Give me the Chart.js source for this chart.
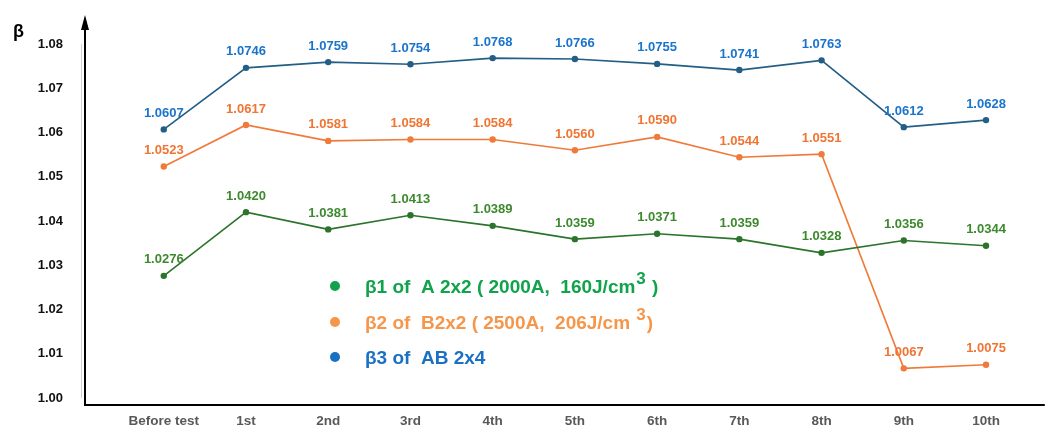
<!DOCTYPE html>
<html>
<head>
<meta charset="utf-8">
<script src="https://cdn.jsdelivr.net/npm/chart.js@4/dist/chart.umd.min.js"></script>
<style>
  html, body { margin: 0; padding: 0; background: #fff; }
  #wrap { width: 1048px; height: 442px; position: relative; }
</style>
</head>
<body>
<div id="wrap"><canvas id="beta-chart" width="1048" height="442"></canvas></div>
<script>
// Test stages on the x axis
const stages = ['Before test', '1st', '2nd', '3rd', '4th', '5th', '6th', '7th', '8th', '9th', '10th'];

// Beta values per series
const beta1 = [1.0276, 1.0420, 1.0381, 1.0413, 1.0389, 1.0359, 1.0371, 1.0359, 1.0328, 1.0356, 1.0344];
const beta2 = [1.0523, 1.0617, 1.0581, 1.0584, 1.0584, 1.0560, 1.0590, 1.0544, 1.0551, 1.0067, 1.0075];
const beta3 = [1.0607, 1.0746, 1.0759, 1.0754, 1.0768, 1.0766, 1.0755, 1.0741, 1.0763, 1.0612, 1.0628];

// Y axis tick labels
const yTicks = [1.00, 1.01, 1.02, 1.03, 1.04, 1.05, 1.06, 1.07, 1.08];

// Legend text: main part, superscript, tail
const legendItems = [
    { text: 'β1 of  A 2x2 ( 2000A,  160J/cm', sup: '3', tail: ' )', color: '#10a34b' },
    { text: 'β2 of  B2x2 ( 2500A,  206J/cm ', sup: '3', tail: ')', color: '#f5964a' },
    { text: 'β3 of  AB 2x4', sup: '', tail: '', color: '#1a70c2' }
];

const toPoints = values => values.map((v, i) => ({ x: i, y: v }));

function series(values, lineColor, labelColor) {
    return {
        data: toPoints(values),
        borderColor: lineColor,
        backgroundColor: lineColor,
        borderWidth: 1.6,
        pointRadius: 3.2,
        pointHoverRadius: 3.2,
        pointBorderWidth: 0,
        labelColor: labelColor,
        tension: 0
    };
}

/**
 * Value labels above each point
 */
const valueLabels = {
    id: 'valueLabels',
    afterDatasetsDraw(chart) {
        const ctx = chart.ctx;
        ctx.save();
        ctx.font = 'bold 13px "Liberation Sans", Arial, sans-serif';
        ctx.textAlign = 'center';
        ctx.textBaseline = 'middle';
        chart.data.datasets.forEach((ds, di) => {
            const meta = chart.getDatasetMeta(di);
            ctx.fillStyle = ds.labelColor;
            meta.data.forEach((pt, i) => {
                ctx.fillText(ds.data[i].y.toFixed(4), pt.x, pt.y - 16);
            });
        });
        ctx.restore();
    }
};

/**
 * Black axes with arrow, beta symbol, custom legend
 */
const axesAndLegend = {
    id: 'axesAndLegend',
    beforeDatasetsDraw(chart) {
        const ctx = chart.ctx;
        const area = chart.chartArea;
        const yScale = chart.scales.y;
        const arrowTip = 15;
        ctx.save();
        // faint grey line beside the y axis
        ctx.strokeStyle = '#d0d0d0';
        ctx.lineWidth = 1;
        ctx.beginPath();
        ctx.moveTo(area.left - 3.5, yScale.getPixelForValue(1.08));
        ctx.lineTo(area.left - 3.5, yScale.getPixelForValue(1.00));
        ctx.stroke();

        ctx.strokeStyle = '#000';
        ctx.fillStyle = '#000';
        ctx.lineWidth = 2;
        ctx.beginPath();
        ctx.moveTo(area.left, arrowTip + 8);
        ctx.lineTo(area.left, area.bottom);
        ctx.lineTo(area.right, area.bottom);
        ctx.stroke();
        // arrow head
        ctx.beginPath();
        ctx.moveTo(area.left, arrowTip);
        ctx.lineTo(area.left - 4, arrowTip + 15);
        ctx.lineTo(area.left + 4, arrowTip + 15);
        ctx.closePath();
        ctx.fill();

        // beta symbol
        ctx.font = 'bold 18px "Liberation Sans", Arial, sans-serif';
        ctx.textAlign = 'left';
        ctx.textBaseline = 'middle';
        ctx.fillText('β', 13, 32);
        ctx.restore();
    },
    afterDraw(chart) {
        const ctx = chart.ctx;
        ctx.save();
        const dotX = 335, textX = 365, rowY = [286, 322, 357];
        const mainFont = 'bold 19px "Liberation Sans", Arial, sans-serif';
        legendItems.forEach((item, i) => {
            const y = rowY[i];
            ctx.fillStyle = item.color;
            ctx.beginPath();
            ctx.arc(dotX, y, 5, 0, Math.PI * 2);
            ctx.fill();
            ctx.textBaseline = 'alphabetic';
            ctx.textAlign = 'left';
            ctx.font = mainFont;
            const base = y + 7;
            ctx.fillText(item.text, textX, base);
            let x = textX + ctx.measureText(item.text).width;
            if (item.sup) {
                ctx.font = 'bold 17px "Liberation Sans", Arial, sans-serif';
                ctx.fillText(item.sup, x + 1, base - 9);
                x += ctx.measureText(item.sup).width + 2;
                ctx.font = mainFont;
                ctx.fillText(item.tail, x, base);
            }
        });
        ctx.restore();
    }
};

const ctx = document.getElementById('beta-chart').getContext('2d');
new Chart(ctx, {
    type: 'line',
    data: {
        datasets: [
            series(beta1, '#2c742c', '#3d8a2e'),
            series(beta2, '#f07a3a', '#f07533'),
            series(beta3, '#235e86', '#1a74cc')
        ]
    },
    options: {
        responsive: false,
        animation: false,
        events: [],
        layout: { padding: { top: 0, right: 2, left: 0, bottom: 0 } },
        plugins: {
            legend: { display: false },
            tooltip: { enabled: false }
        },
        scales: {
            x: {
                type: 'linear',
                min: -0.958,
                max: 10.715,
                grid: { display: false, drawTicks: false },
                border: { display: false },
                afterBuildTicks: scale => {
                    scale.ticks = stages.map((s, i) => ({ value: i }));
                },
                afterFit: scale => { scale.height = 37; },
                ticks: {
                    autoSkip: false,
                    maxRotation: 0,
                    padding: 8,
                    color: '#595959',
                    font: { family: '"Liberation Sans Narrow", "Liberation Sans", Arial', size: 13.5, weight: 'bold' },
                    callback: v => stages[v]
                }
            },
            y: {
                min: 0.99842,
                max: 1.0832,
                grid: { display: false, drawTicks: false },
                border: { display: false },
                afterBuildTicks: scale => {
                    scale.ticks = yTicks.map(v => ({ value: v }));
                },
                afterFit: scale => { scale.width = 85; },
                ticks: {
                    padding: 22,
                    color: '#111',
                    font: { family: '"Liberation Sans", Arial', size: 13, weight: 'bold' },
                    callback: v => v.toFixed(2)
                }
            }
        }
    },
    plugins: [axesAndLegend, valueLabels]
});
</script>
</body>
</html>
